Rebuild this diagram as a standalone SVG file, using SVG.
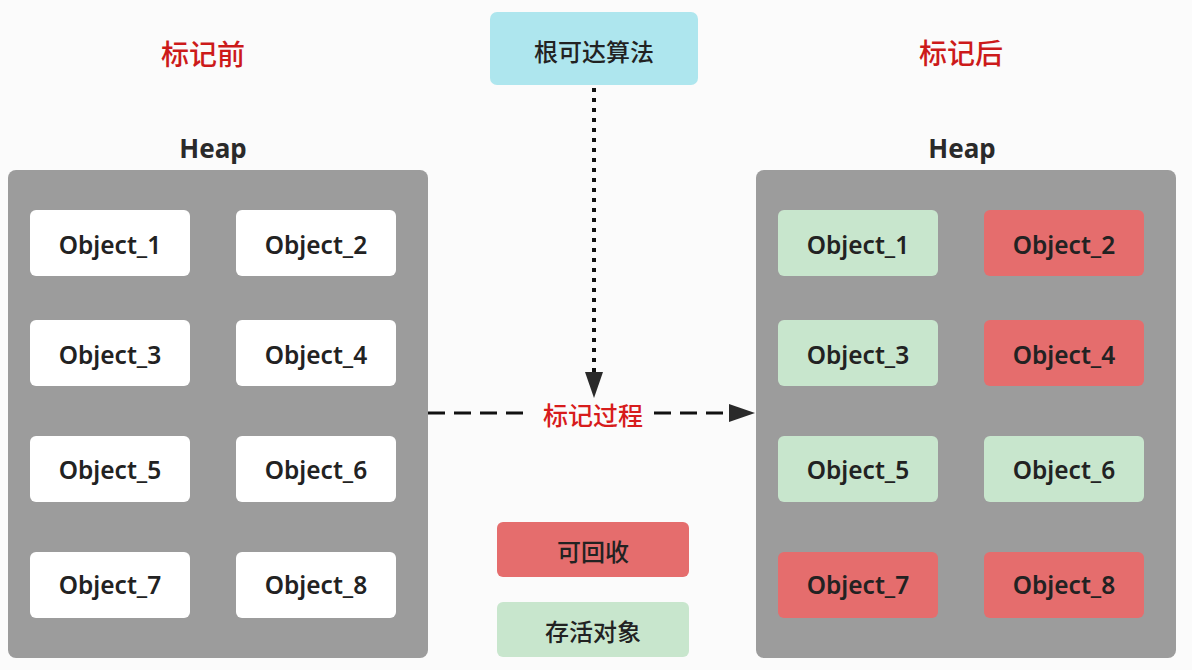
<svg xmlns="http://www.w3.org/2000/svg" width="1192" height="670" viewBox="0 0 1192 670">
<defs>
<style>
.bg{fill:#fbfbfb}
.heap{fill:#9c9c9c}
.obj{fill:#ffffff}
.live{fill:#c8e6cd}
.dead{fill:#e56d6d}
.root{fill:#aee6ee}
.ot{font-family:"Noto Sans","Liberation Sans",sans-serif;font-weight:600;font-size:24.5px;fill:#222;text-anchor:middle;dominant-baseline:central}
.ht{font-family:"Noto Sans","Liberation Sans",sans-serif;font-weight:bold;font-size:26px;fill:#2a2a2a;text-anchor:middle;dominant-baseline:central}
.title{font-family:"Noto Sans CJK SC",sans-serif;font-weight:500;font-size:28px;fill:#cc1a1a;text-anchor:middle;dominant-baseline:central}
.ct{font-family:"Noto Sans CJK SC",sans-serif;font-weight:500;font-size:24px;fill:#222;text-anchor:middle;dominant-baseline:central}
.red{fill:#d71c1c}
.dot{stroke:#111;stroke-width:4;stroke-dasharray:4 6;fill:none}
.dash{stroke:#111;stroke-width:3;stroke-dasharray:17 9;fill:none}
</style>
</defs>
<rect class="bg" x="0" y="0" width="1192" height="670"/>

<g id="title-before"><text class="title" x="203" y="53">标记前</text></g>
<g id="title-after"><text class="title" x="961" y="52">标记后</text></g>

<g id="heap-left">
<text class="ht" x="213" y="148">Heap</text>
<rect class="heap" x="8" y="170" width="420" height="488" rx="8"/>
</g>
<g id="l-obj1"><rect class="obj" x="30" y="210" width="160" height="66" rx="6"/><text class="ot" x="110" y="244">Object_1</text></g>
<g id="l-obj2"><rect class="obj" x="236" y="210" width="160" height="66" rx="6"/><text class="ot" x="316" y="244">Object_2</text></g>
<g id="l-obj3"><rect class="obj" x="30" y="320" width="160" height="66" rx="6"/><text class="ot" x="110" y="354">Object_3</text></g>
<g id="l-obj4"><rect class="obj" x="236" y="320" width="160" height="66" rx="6"/><text class="ot" x="316" y="354">Object_4</text></g>
<g id="l-obj5"><rect class="obj" x="30" y="436" width="160" height="66" rx="6"/><text class="ot" x="110" y="469">Object_5</text></g>
<g id="l-obj6"><rect class="obj" x="236" y="436" width="160" height="66" rx="6"/><text class="ot" x="316" y="469">Object_6</text></g>
<g id="l-obj7"><rect class="obj" x="30" y="552" width="160" height="66" rx="6"/><text class="ot" x="110" y="584">Object_7</text></g>
<g id="l-obj8"><rect class="obj" x="236" y="552" width="160" height="66" rx="6"/><text class="ot" x="316" y="584">Object_8</text></g>

<g id="heap-right">
<text class="ht" x="962" y="148">Heap</text>
<rect class="heap" x="756" y="170" width="420" height="488" rx="8"/>
</g>
<g id="r-obj1"><rect class="live" x="778" y="210" width="160" height="66" rx="6"/><text class="ot" x="858" y="244">Object_1</text></g>
<g id="r-obj2"><rect class="dead" x="984" y="210" width="160" height="66" rx="6"/><text class="ot" x="1064" y="244">Object_2</text></g>
<g id="r-obj3"><rect class="live" x="778" y="320" width="160" height="66" rx="6"/><text class="ot" x="858" y="354">Object_3</text></g>
<g id="r-obj4"><rect class="dead" x="984" y="320" width="160" height="66" rx="6"/><text class="ot" x="1064" y="354">Object_4</text></g>
<g id="r-obj5"><rect class="live" x="778" y="436" width="160" height="66" rx="6"/><text class="ot" x="858" y="469">Object_5</text></g>
<g id="r-obj6"><rect class="live" x="984" y="436" width="160" height="66" rx="6"/><text class="ot" x="1064" y="469">Object_6</text></g>
<g id="r-obj7"><rect class="dead" x="778" y="552" width="160" height="66" rx="6"/><text class="ot" x="858" y="584">Object_7</text></g>
<g id="r-obj8"><rect class="dead" x="984" y="552" width="160" height="66" rx="6"/><text class="ot" x="1064" y="584">Object_8</text></g>

<g id="root"><rect class="root" x="490" y="12" width="208" height="73" rx="7"/><text class="ct" x="594" y="50">根可达算法</text></g>

<g id="legend-dead"><rect class="dead" x="497" y="522" width="192" height="55" rx="6"/><text class="ct" x="593" y="550">可回收</text></g>
<g id="legend-live"><rect class="live" x="497" y="602" width="192" height="55" rx="6"/><text class="ct" x="593" y="630">存活对象</text></g>

<g id="connectors">
<line class="dot" x1="594" y1="88" x2="594" y2="372"/>
<path d="M585,372 L603,372 L594,398 z" fill="#2a2a2a"/>
<line class="dash" x1="428" y1="413" x2="532" y2="413"/>
<line class="dash" x1="654" y1="413" x2="730" y2="413"/>
<path d="M729,404 L755,413 L729,422 z" fill="#2a2a2a"/>
<text class="title red" x="593" y="414" style="font-size:25px">标记过程</text>
</g>
</svg>
